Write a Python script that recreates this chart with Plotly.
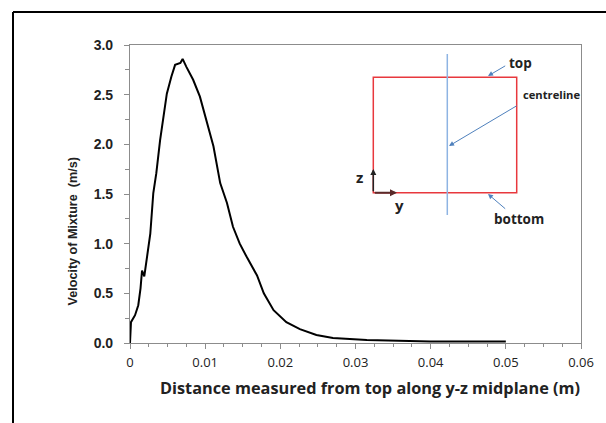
import plotly.graph_objects as go

# Data
distance_m = [0, 0.00013, 0.00067, 0.0011, 0.0014, 0.0016, 0.0019, 0.0021, 0.0027, 0.0031,
              0.0035, 0.0040, 0.0044, 0.0049, 0.0055, 0.0060, 0.0067, 0.0070, 0.0075, 0.0084,
              0.0093, 0.0102, 0.0111, 0.0120, 0.0129, 0.0137, 0.0146, 0.0155, 0.0169, 0.0178,
              0.0191, 0.0208, 0.0226, 0.0248, 0.0270, 0.0315, 0.036, 0.040, 0.045, 0.050]
velocity_ms = [0, 0.21, 0.28, 0.38, 0.55, 0.73, 0.67, 0.77, 1.10, 1.51,
               1.71, 2.04, 2.24, 2.51, 2.68, 2.80, 2.82, 2.86, 2.78, 2.65,
               2.48, 2.24, 1.98, 1.61, 1.41, 1.17, 1.00, 0.87, 0.68, 0.50,
               0.33, 0.21, 0.14, 0.08, 0.05, 0.03, 0.02, 0.015, 0.015, 0.015]

x_title = "Distance measured from top along y-z midplane (m)"
y_title = "Velocity of Mixture  (m/s)"
x_ticks = [0, 0.01, 0.02, 0.03, 0.04, 0.05, 0.06]
x_ticklabels = ["0", "0.01", "0.02", "0.03", "0.04", "0.05", "0.06"]
y_ticks = [0, 0.5, 1.0, 1.5, 2.0, 2.5, 3.0]
y_ticklabels = ["0.0", "0.5", "1.0", "1.5", "2.0", "2.5", "3.0"]

W, H = 606, 423
L, R, T, B = 130, 581, 45, 343


def px(x):
    return (x - L) / (R - L)


def py(y):
    return (B - y) / (B - T)


fig = go.Figure()
fig.add_trace(go.Scatter(x=distance_m, y=velocity_ms, mode="lines",
                         line=dict(color="black", width=2), showlegend=False))

grey = "#8c8c8c"
fig.update_layout(
    width=W, height=H,
    margin=dict(l=L, r=W - R, t=T, b=H - B, pad=0),
    paper_bgcolor="white", plot_bgcolor="white",
    xaxis=dict(range=[0, 0.06], tickvals=x_ticks, ticktext=x_ticklabels,
               showgrid=False, zeroline=False, showline=True, mirror=True,
               linecolor=grey, linewidth=1.2, ticks="outside", ticklen=5,
               tickcolor=grey, ticklabelstandoff=2,
               tickfont=dict(family="Open Sans", size=13, color="#222"),
               minor=dict(dtick=0.0025, ticks="outside", ticklen=3, tickcolor=grey)),
    yaxis=dict(range=[0, 3], tickvals=y_ticks, ticktext=y_ticklabels,
               showgrid=False, zeroline=False, showline=True, mirror=True,
               linecolor=grey, linewidth=1.2, ticks="outside", ticklen=5,
               tickcolor=grey, ticklabelstandoff=8,
               tickfont=dict(family="Liberation Sans", size=14, color="#222", weight="bold"),
               minor=dict(dtick=0.25, ticks="outside", ticklen=4, tickcolor=grey)),
)

shapes = []
# outer frame (left and top edges)
shapes.append(dict(type="line", xref="paper", yref="paper", x0=px(13), x1=px(13),
                   y0=py(H + 2), y1=py(12), line=dict(color="black", width=2)))
shapes.append(dict(type="line", xref="paper", yref="paper", x0=px(13), x1=px(W + 2),
                   y0=py(12), y1=py(12), line=dict(color="black", width=2)))
# inset: red rectangle
shapes.append(dict(type="rect", xref="paper", yref="paper", x0=px(373.3), x1=px(516.7),
                   y0=py(192.7), y1=py(77.3), line=dict(color="#e8383d", width=1.5)))
# inset: centreline
shapes.append(dict(type="line", xref="paper", yref="paper", x0=px(447.3), x1=px(447.3),
                   y0=py(215), y1=py(54), line=dict(color="#8eb4e3", width=1.5)))
fig.update_layout(shapes=shapes)

blue = "#4f81bd"
ann = []

# axis titles (placed as in the reference)
ann.append(dict(xref="paper", yref="paper", x=px(370), y=py(388), text=x_title,
                showarrow=False, xanchor="center", yanchor="middle",
                font=dict(family="Open Sans", size=16.3, color="#222", weight="bold")))
ann.append(dict(xref="paper", yref="paper", x=px(72), y=py(231.5), text=y_title,
                showarrow=False, xanchor="center", yanchor="middle", textangle=-90,
                font=dict(family="Liberation Sans", size=12.6, color="#222", weight="bold")))


def arrow(hx, hy, tx, ty, color, width=1, size=1.0):
    ann.append(dict(xref="paper", yref="paper", x=px(hx), y=py(hy), ax=tx - hx, ay=ty - hy,
                    text="", showarrow=True, arrowhead=2, arrowsize=size, arrowwidth=width,
                    arrowcolor=color))


arrow(488, 76, 506.7, 65, blue)
arrow(449, 146, 518, 105, blue)
arrow(488, 194, 506.7, 210, blue)
arrow(373.3, 169, 373.3, 192.7, "#222", width=1.5, size=0.8)
arrow(397, 192.7, 373.3, 192.7, "#5a2a2a", width=2, size=0.7)


def label(text, x, y, size, anchor="left"):
    ann.append(dict(xref="paper", yref="paper", x=px(x), y=py(y), text=text, showarrow=False,
                    xanchor=anchor, yanchor="middle",
                    font=dict(family="Open Sans", size=size, color="#222", weight="bold")))


label("top", 507, 62.5, 13.5)
label("centreline", 521, 94, 11.2)
label("bottom", 519, 219, 13.5, anchor="center")
label("z", 359.5, 176.5, 15, anchor="center")
label("y", 399, 204.5, 15, anchor="center")

fig.update_layout(annotations=ann)

fig.write_html("out.html", config={"displayModeBar": False},
               post_script="document.body.style.margin='0';")
